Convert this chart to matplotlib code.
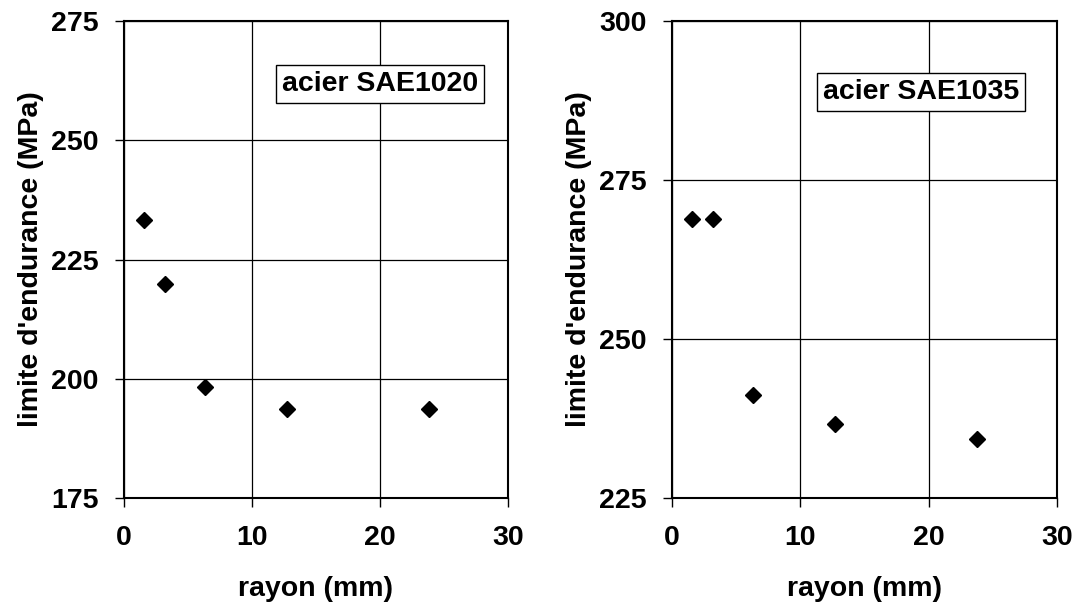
import matplotlib
matplotlib.use("Agg")
import matplotlib.pyplot as plt

plt.rcParams['font.family'] = ['Liberation Sans', 'DejaVu Sans']
plt.rcParams['font.weight'] = 'bold'

# Data
rayon_1020 = [1.58, 3.17, 6.35, 12.7, 23.8]
limite_1020 = [233.3, 219.8, 198.3, 193.7, 193.6]
rayon_1035 = [1.58, 3.17, 6.35, 12.7, 23.8]
limite_1035 = [268.9, 268.9, 241.2, 236.7, 234.3]

xticks = [0, 10, 20, 30]
yticks_1020 = [175, 200, 225, 250, 275]
yticks_1035 = [225, 250, 275, 300]

xlabel = "rayon (mm)"
ylabel = "limite d'endurance (MPa)"
title_1020 = "acier SAE1020"
title_1035 = "acier SAE1035"

fig = plt.figure(figsize=(10.79, 6.08), dpi=100)
ax1 = fig.add_axes([124/1079, 1-498/608, 384/1079, 477/608])
ax2 = fig.add_axes([672/1079, 1-498/608, 385/1079, 477/608])

FS = 20.5

def style(ax, xs, ys, yticks, label, lx, ly):
    ax.plot(xs, ys, linestyle='none', marker='D', markersize=8.5,
            color='black', zorder=3)
    ax.set_xlim(0, 30)
    ax.set_ylim(yticks[0], yticks[-1])
    ax.set_xticks(xticks)
    ax.set_yticks(yticks)
    ax.grid(True, color='black', linewidth=0.9)
    ax.set_axisbelow(True)
    for s in ax.spines.values():
        s.set_linewidth(1.5)
        s.set_color('black')
    ax.tick_params(axis='both', direction='out', length=6.5, width=1,
                   labelsize=FS, colors='black')
    ax.tick_params(axis='x', pad=13)
    ax.tick_params(axis='y', pad=12)
    for t in ax.get_xticklabels() + ax.get_yticklabels():
        t.set_fontweight('bold')
    ax.set_xlabel(xlabel, fontsize=FS, fontweight='bold', labelpad=18)
    ax.set_ylabel(ylabel, fontsize=FS, fontweight='bold', labelpad=5)
    ax.text(lx, ly, label, transform=ax.transAxes, fontsize=FS,
            fontweight='bold', ha='center', va='center', zorder=5,
            bbox=dict(boxstyle='square,pad=0.22', facecolor='white',
                      edgecolor='black', linewidth=1))

style(ax1, rayon_1020, limite_1020, yticks_1020, title_1020, 0.667, 0.868)
style(ax2, rayon_1035, limite_1035, yticks_1035, title_1035, 0.647, 0.851)

fig.savefig("out.png", dpi=100)
